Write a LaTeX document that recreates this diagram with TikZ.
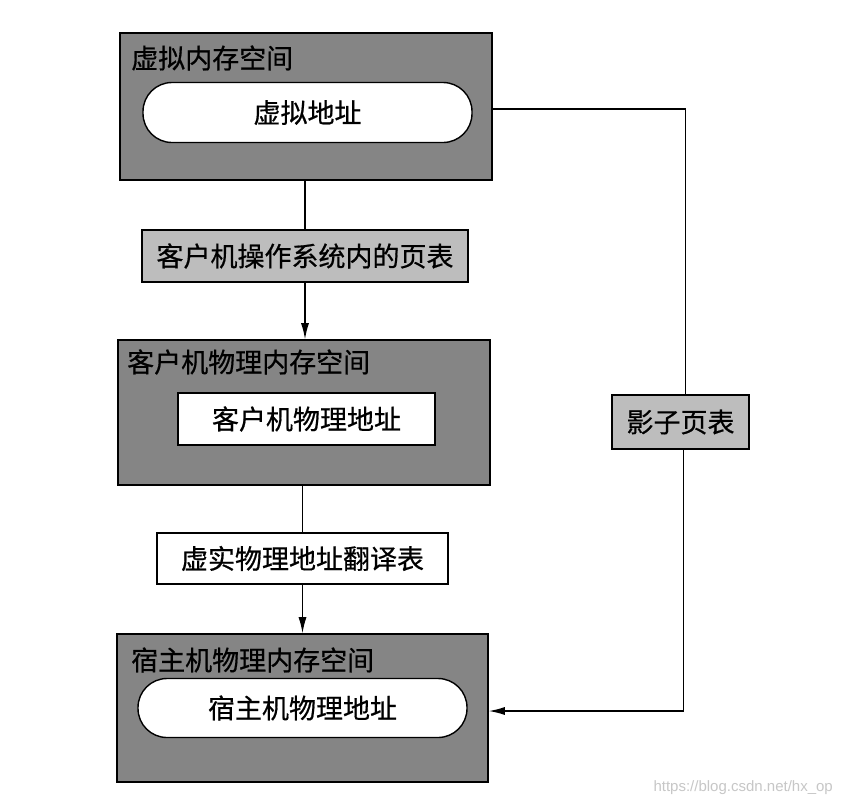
\documentclass[tikz,border=0pt]{standalone}
\usepackage{fontspec}
\newfontfamily\cjk[FakeBold=0.6]{Noto Sans CJK SC}
\newfontfamily\wm{Liberation Sans}
\usetikzlibrary{arrows.meta}
\definecolor{darkfill}{HTML}{858585}
\definecolor{lightfill}{HTML}{BDBDBD}
\tikzset{
  space/.style={draw=black, line width=1.6pt, fill=darkfill, inner sep=0pt},
  pill/.style={draw=black, line width=1.4pt, fill=white, rounded corners=29pt, inner sep=0pt, font=\cjk\fontsize{27}{30}\selectfont},
  inbox/.style={draw=black, line width=1.4pt, fill=white, inner sep=0pt, font=\cjk\fontsize{27}{30}\selectfont},
  graybox/.style={draw=black, line width=1.4pt, fill=lightfill, inner sep=0pt, font=\cjk\fontsize{27}{30}\selectfont},
  spacelabel/.style={anchor=west, inner sep=0pt, font=\cjk\fontsize{27}{30}\selectfont},
  conn/.style={draw=black, line width=1.3pt},
  arr/.style={conn, -{Latex[length=16pt,width=8pt]}},
}
\begin{document}
\begin{tikzpicture}[x=1pt, y=-1pt]
\useasboundingbox[fill=white] (0,0) rectangle (842,806);
% spaces
\node[space, minimum width=372pt, minimum height=147pt] (vspace) at (306,106.5) {};
\node[space, minimum width=372pt, minimum height=145pt] (gspace) at (304,412.5) {};
\node[space, minimum width=371pt, minimum height=148pt] (hspace) at (302.5,708) {};
% space labels
\node[spacelabel] (vlabel) at (131,58) {虚拟内存空间};
\node[spacelabel] (glabel) at (127,362) {客户机物理内存空间};
\node[spacelabel] (hlabel) at (131,660) {宿主机物理内存空间};
% inner address nodes
\node[pill, minimum width=329pt, minimum height=60pt] (vaddr) at (307.5,112.5) {虚拟地址};
\node[inbox, minimum width=257pt, minimum height=52pt] (gaddr) at (306.5,419) {客户机物理地址};
\node[pill, minimum width=329pt, minimum height=59pt] (haddr) at (302.5,708) {宿主机物理地址};
% tables
\node[graybox, minimum width=326pt, minimum height=52pt] (gpt) at (305,256) {客户机操作系统内的页表};
\node[inbox, minimum width=291pt, minimum height=51pt] (xlat) at (302.5,558.5) {虚实物理地址翻译表};
\node[graybox, minimum width=137pt, minimum height=54pt] (shadow) at (680.5,422) {影子页表};
% connectors
\draw[conn] (vspace.south -| gpt.north) -- (gpt.north);
\draw[arr] (gpt.south) -- (gpt.south |- gspace.north);
\draw[conn] (gspace.south -| xlat.north) -- (xlat.north);
\draw[arr] (xlat.south) -- (xlat.south |- hspace.north);
\coordinate (rtop) at ([xshift=5pt]shadow.north |- 0,109);
\coordinate (rbot) at ([xshift=3pt]shadow.south |- 0,711);
\draw[conn] (vspace.east |- rtop) -- (rtop) -- ([xshift=5pt]shadow.north);
\draw[arr] ([xshift=3pt]shadow.south) -- (rbot) -- (hspace.east |- rbot);
% watermark
\node[anchor=east, inner sep=0pt, text=black!22, font=\wm\fontsize{15}{18}\selectfont] (wmark) at (833,788) {https://blog.csdn.net/hx\_op};
\end{tikzpicture}
\end{document}
